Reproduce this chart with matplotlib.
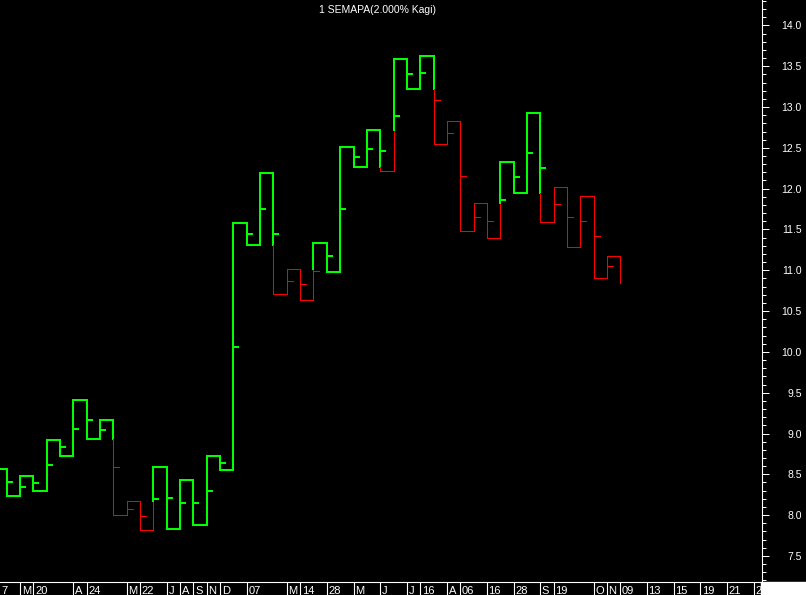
import sys
import numpy as np
import matplotlib

matplotlib.use("Agg")
import matplotlib.pyplot as plt
from matplotlib.patches import Rectangle
from matplotlib.ticker import FixedLocator, FormatStrFormatter

title = "1 SEMAPA(2.000% Kagi)"

# kagi turning levels, one per column, starting at column -1
levels = [
    8.57, 8.23, 8.48, 8.29, 8.92, 8.72, 9.41, 8.93, 9.17, 8.00,
    8.17, 7.82, 8.59, 7.83, 8.43, 7.88, 8.73, 8.55, 11.58, 11.31,
    12.19, 10.71, 11.02, 10.64, 11.34, 10.98, 12.51, 12.26, 12.72, 12.22,
    13.59, 13.22, 13.62, 12.55, 12.83, 11.48, 11.82, 11.39, 12.33, 11.95,
    12.93, 11.59, 12.02, 11.28, 11.91, 10.91, 11.17, 10.84,
]

# small marks on the verticals, columns 0 .. 45
marks = [
    8.40, 8.35, 8.39, 8.61, 8.83, 9.06, 9.16, 9.04, 8.59, 8.08,
    7.99, 8.20, 8.21, 8.15, 8.15, 8.30, 8.64, 10.06, 11.44, 11.75,
    11.44, 10.87, 10.83, 10.99, 11.17, 11.75, 12.39, 12.49, 12.46, 12.89,
    13.40, 13.42, 13.08, 12.68, 12.15, 11.65, 11.60, 11.86, 12.14, 12.44,
    12.25, 11.81, 11.65, 11.60, 11.42, 11.05,
]

date_cols = [-0.5, 1, 2, 5, 6, 9, 10, 12, 13, 14, 15, 16, 18, 21, 22, 24, 26,
             28, 30, 31, 33, 34, 36, 38, 40, 41, 44, 45, 46, 48, 50, 52, 54, 56]
date_labels = ["7", "M", "20", "A", "24", "M", "22", "J", "A", "S", "N", "D",
               "07", "M", "14", "28", "M", "J", "J", "16", "A", "06", "16",
               "28", "S", "19", "O", "N", "09", "13", "15", "19", "21", "2"]

GREEN = "#00ff00"
RED = "#ff0000"
W, H = 806.0, 595.0
LW_YANG = 1.35
LW_YIN = 0.5


def kagi_segments(levels):
    """
    Split the kagi path into yang / yin pieces
    """

    segs = []
    verticals = {}
    yang = True
    for i in range(1, len(levels)):
        k = i - 1
        a, b = levels[i - 1], levels[i]
        segs.append((k - 1, a, k, a, yang))
        ref = levels[i - 2] if i >= 2 else None
        if ref is not None and b > a and not yang and b > ref:
            pieces = [(a, ref, False), (ref, b, True)]
            yang = True
        elif ref is not None and b < a and yang and b < ref:
            pieces = [(a, ref, True), (ref, b, False)]
            yang = False
        else:
            pieces = [(a, b, yang)]
        for p in pieces:
            segs.append((k, p[0], k, p[1], p[2]))
        verticals[k] = pieces
    return segs, verticals


def merge_runs(segs):
    """
    Join consecutive segments of the same colour into polylines
    """

    runs = []
    for x0, y0, x1, y1, yang in segs:
        if runs and runs[-1][2] == yang:
            runs[-1][0].append(x1)
            runs[-1][1].append(y1)
        else:
            runs.append(([x0, x1], [y0, y1], yang))
    return runs


def main():
    plt.rcParams["font.family"] = ["Liberation Sans", "DejaVu Sans"]

    fig = plt.figure(figsize=(W / 100, H / 100), dpi=100, facecolor="black")
    ax = fig.add_axes([0, 13 / H, 762 / W, 582 / H])
    ax.set_facecolor("black")

    x_lo = -6.7 / 13.339
    x_hi = (762 - 6.7) / 13.339
    ax.set_xlim(x_lo, x_hi)
    ax.set_ylim(7.181, 14.311)

    segs, verticals = kagi_segments(levels)
    for xs, ys, yang in merge_runs(segs):
        ax.plot(xs, ys, color=GREEN if yang else RED,
                lw=LW_YANG if yang else LW_YIN, antialiased=False,
                solid_joinstyle="miter", solid_capstyle="projecting")

    for k, m in enumerate(marks):
        yang = verticals[k][-1][2]
        for piece in verticals[k]:
            lo, hi = sorted(piece[:2])
            if lo <= m <= hi:
                yang = piece[2]
        ax.plot([k, k + 0.45], [m, m], color=GREEN if yang else RED,
                lw=LW_YANG if yang else LW_YIN, antialiased=False,
                solid_capstyle="butt")

    for s in ["left", "top", "bottom"]:
        ax.spines[s].set_visible(False)
    ax.spines["right"].set_color("white")
    ax.spines["right"].set_linewidth(0.8)
    ax.set_xticks([])
    ax.yaxis.tick_right()
    ax.yaxis.set_major_locator(FixedLocator(np.arange(7.5, 14.01, 0.5)))
    ax.yaxis.set_minor_locator(FixedLocator(np.arange(7.2, 14.35, 0.1)))
    ax.yaxis.set_major_formatter(FormatStrFormatter("%.1f"))
    ax.tick_params(axis="y", which="major", length=5, width=0.72,
                   colors="white", labelsize=7.5, pad=23.5, direction="out")
    ax.tick_params(axis="y", which="minor", length=2.9, width=0.72,
                   colors="white", direction="out")
    for t in ax.yaxis.get_majorticklabels():
        t.set_horizontalalignment("right")

    # date strip along the bottom
    ax2 = fig.add_axes([0, 0, 762 / W, 13 / H])
    ax2.set_facecolor("black")
    ax2.set_xlim(x_lo, x_hi)
    ax2.set_ylim(0, 1)
    ax2.set_xticks([])
    ax2.set_yticks([])
    for s in ["left", "right", "bottom"]:
        ax2.spines[s].set_visible(False)
    ax2.spines["top"].set_color("white")
    ax2.spines["top"].set_linewidth(0.8)
    ax2.vlines(date_cols[1:], 0, 1, color="white", lw=0.8)
    for c, lbl in zip(date_cols, date_labels):
        ax2.text(c + 0.12, 0.08, lbl, color="white", fontsize=8,
                 ha="left", va="baseline", clip_on=True)

    fig.add_artist(Rectangle((761 / W, 0), 45 / W, 13 / H,
                             transform=fig.transFigure, color="white"))

    fig.text(377.5 / W, 1 - 9.7 / H, title, color="white", fontsize=7.5,
             ha="center", va="center")

    fig.savefig("out.png", dpi=100, facecolor="black")
    return 0


if __name__ == "__main__":
    sys.exit(main())
